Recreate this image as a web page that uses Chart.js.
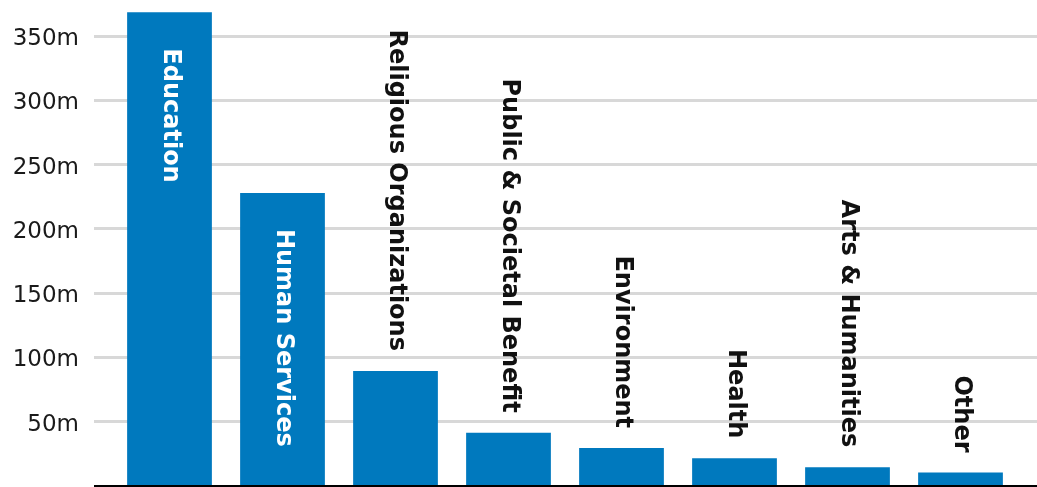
<!DOCTYPE html>
<html>
<head>
<meta charset="utf-8">
<script src="https://cdn.jsdelivr.net/npm/chart.js@4/dist/chart.umd.min.js"></script>
<style>
  html, body { margin: 0; padding: 0; background: #ffffff; overflow: hidden; }
  #wrap { width: 1037px; height: 487px; position: relative; }
</style>
</head>
<body>
<div id="wrap"><canvas id="chart"></canvas></div>
<script>
// Giving by cause, in millions
const categories = [
  'Education',
  'Human Services',
  'Religious Organizations',
  'Public & Societal Benefit',
  'Environment',
  'Health',
  'Arts & Humanities',
  'Other'
];
const amounts = [368.5, 228, 89.5, 41.5, 29.5, 21.5, 14.5, 10.5];
const tickValues = [0, 50, 100, 150, 200, 250, 300, 350];
const axisMax = 375;

const BAR_COLOR = '#0079be';
const GRID_COLOR = '#d8d8d8';
const LABEL_FONT = 'bold 24px "DejaVu Sans", sans-serif';

const keepTicks = (scale) => {
  scale.ticks = tickValues.map(v => ({ value: v }));
};
const noEdgePadding = (scale) => {
  scale.paddingTop = 0;
  scale.paddingBottom = 0;
};
const gridColor = (ctx) => (ctx.tick && ctx.tick.value === 0 ? '#000000' : GRID_COLOR);
const gridWidth = (ctx) => (ctx.tick && ctx.tick.value === 0 ? 2 : 3);

// Category names written vertically, inside tall bars and above short ones
const barLabels = {
  id: 'barLabels',
  afterDatasetsDraw(chart) {
    const ctx = chart.ctx;
    const meta = chart.getDatasetMeta(0);
    ctx.save();
    ctx.font = LABEL_FONT;
    ctx.textBaseline = 'middle';
    ctx.textAlign = 'left';
    meta.data.forEach((bar, i) => {
      const text = categories[i];
      const w = ctx.measureText(text).width;
      const barHeight = bar.base - bar.y;
      const insideGap = 36;
      const outsideGap = 20;
      let start, color;
      if (w + insideGap + 20 < barHeight) {
        start = bar.y + insideGap;
        color = '#ffffff';
      } else {
        start = bar.y - outsideGap - w;
        color = '#111111';
      }
      ctx.save();
      ctx.translate(bar.x + 1, start);
      ctx.rotate(Math.PI / 2);
      ctx.fillStyle = color;
      ctx.fillText(text, 0, 0);
      ctx.restore();
    });
    ctx.restore();
  }
};

new Chart(document.getElementById('chart'), {
  type: 'bar',
  data: {
    labels: categories,
    datasets: [{
      data: amounts,
      backgroundColor: BAR_COLOR,
      borderWidth: 0,
      categoryPercentage: 1.0,
      barPercentage: 0.75
    }]
  },
  options: {
    responsive: true,
    maintainAspectRatio: false,
    animation: false,
    layout: { padding: { top: 4, bottom: 1, left: 0, right: 0 } },
    plugins: {
      legend: { display: false },
      tooltip: { enabled: false }
    },
    scales: {
      x: {
        display: false
      },
      y: {
        position: 'left',
        min: 0,
        max: axisMax,
        afterBuildTicks: keepTicks,
        afterFit: (scale) => { scale.width = 113; noEdgePadding(scale); },
        border: { display: false },
        grid: {
          color: gridColor,
          tickColor: gridColor,
          lineWidth: gridWidth,
          tickWidth: gridWidth,
          tickLength: 19
        },
        ticks: {
          padding: 15,
          labelOffset: 3,
          color: '#1a1a1a',
          font: { family: '"DejaVu Sans", sans-serif', size: 23 },
          callback: (v) => (v === 0 ? '' : v + 'm')
        }
      },
      yRight: {
        position: 'right',
        min: 0,
        max: axisMax,
        afterBuildTicks: keepTicks,
        afterFit: noEdgePadding,
        border: { display: false },
        grid: {
          drawOnChartArea: false,
          color: gridColor,
          tickColor: gridColor,
          lineWidth: gridWidth,
          tickWidth: gridWidth,
          tickLength: 20
        },
        ticks: { display: false }
      }
    }
  },
  plugins: [barLabels]
});
</script>
</body>
</html>
